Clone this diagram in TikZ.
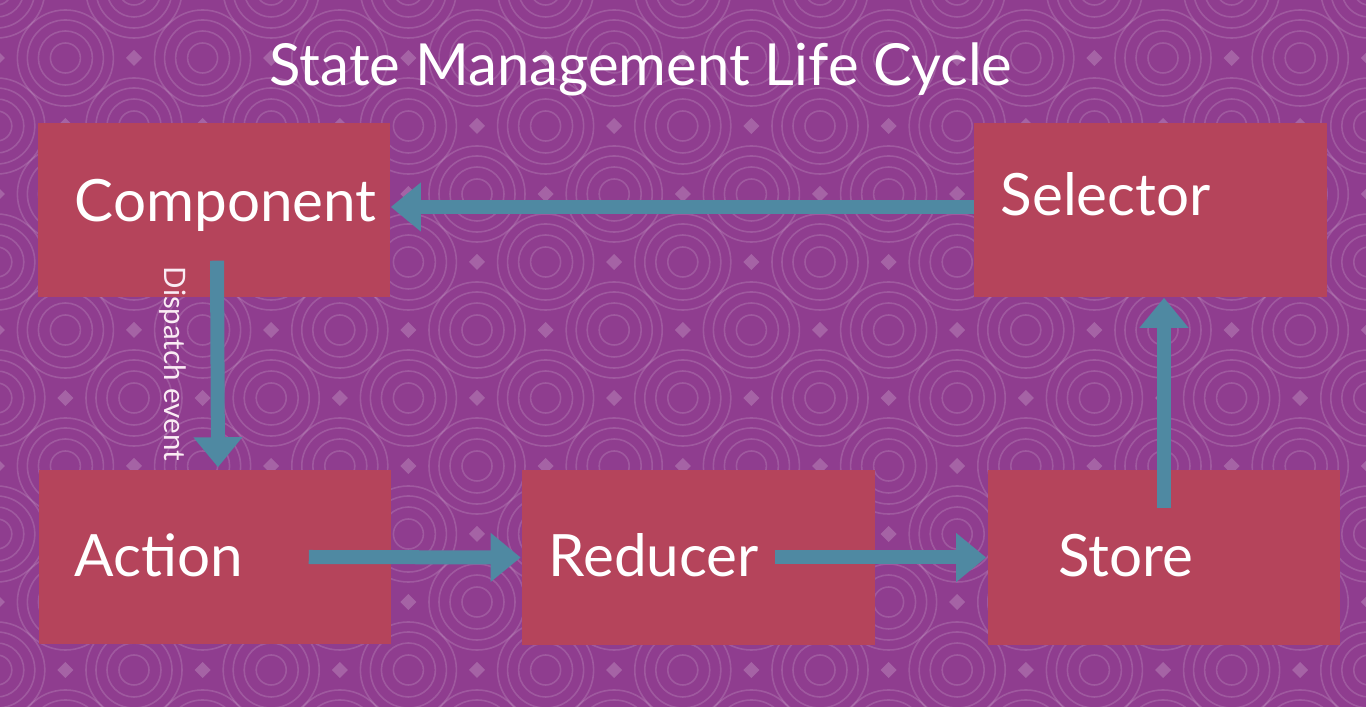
\documentclass[tikz,border=0pt]{standalone}
\usepackage{fontspec}
\setmainfont{Lato}
\usetikzlibrary{arrows.meta,calc,positioning}

\begin{document}
\begin{tikzpicture}[
    x=0.01cm, y=-0.01cm,
    >=latex,
]

\definecolor{bgColor}{RGB}{143, 61, 143}
\definecolor{boxColor}{RGB}{181, 68, 91}
\definecolor{arrowColor}{RGB}{79, 137, 162}
\definecolor{labelColor}{RGB}{250, 236, 244}

\tikzset{
    block/.style = {rectangle, minimum width=3.52cm, minimum height=1.74cm,
                    inner sep=0pt, fill=boxColor},
    blocktext/.style = {anchor=base west, inner sep=0pt, text=white,
                        font=\fontsize{16.6}{20}\selectfont},
    flow/.style = {draw=arrowColor, line width=0.14cm,
                   -{Triangle[length=0.30cm, width=0.47cm]}},
    ev_label/.style = {font=\fontsize{8.4}{10}\selectfont, text=labelColor, inner sep=0pt},
    ring/.style = {draw=white, draw opacity=0.15, line width=0.45pt},
    dot/.style = {fill=white, fill opacity=0.2},
}

% Background
\fill[bgColor] (0,0) rectangle (1366,707);
\useasboundingbox (0,0) rectangle (1366,707);
\begin{scope}
\clip (0,0) rectangle (1366,707);
\foreach \i in {-7,...,13} {
  \foreach \j in {-5,...,6} {
    \pgfmathtruncatemacro\ringflag{mod(\i+\j+40,2)}
    \ifnum\ringflag=0
      \foreach \r in {0.15,0.27,0.38,0.48}
        \draw[ring] (477+68.6*\i, 330+68*\j) circle[radius=\r cm];
    \else
      \fill[dot] (477+68.6*\i, 330+68*\j) +(0,-8) -- +(8,0) -- +(0,8) -- +(-8,0) -- cycle;
    \fi
  }
}
\end{scope}

% Title
\node[anchor=base, inner sep=0pt, text=white, font=\fontsize{16.5}{20}\selectfont]
    (heading) at (641, 86) {State Management Life Cycle};

% =========== BLOCKS ===========
\node[block] (comp) at (214, 210) {};
\node[block] (sel) at (1150.5, 210) {};
\node[block] (act) at (215, 557) {};
\node[block] (red) at (698.5, 557.5) {};
\node[block] (store) at (1164, 557.5) {};

\node[blocktext] (comp_txt) at (74, 222) {Component};
\node[blocktext] (sel_txt) at (1000, 216) {Selector};
\node[blocktext] (act_txt) at (74, 577) {Action};
\node[blocktext] (red_txt) at (548, 577) {Reducer};
\node[blocktext, anchor=base] (store_txt) at (1126, 577) {Store};

% =========== FLOW ===========
\draw[flow] ([yshift=0.03cm]sel.west) -- ([yshift=0.03cm]comp.east);
\draw[flow] ([xshift=0.03cm, yshift=0.37cm]comp.south) -- ([xshift=0.03cm, yshift=0.02cm]act.north)
    node[ev_label, midway, xshift=-0.45cm, rotate=-90] (ev_txt) {Dispatch event};
\draw[flow] ([xshift=-0.83cm]act.east) -- ([xshift=-0.01cm]red.west);
\draw[flow] ([xshift=-1.00cm]red.east) -- ([xshift=-0.01cm]store.west);
\draw[flow] ([yshift=-0.38cm]store.north) -- (store.north |- sel.south);

\end{tikzpicture}
\end{document}
